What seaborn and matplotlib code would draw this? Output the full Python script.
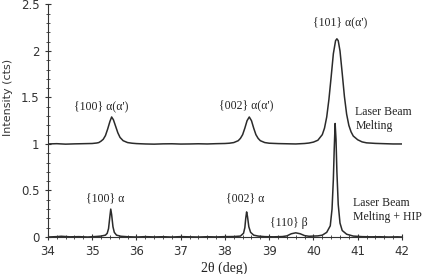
import numpy as np
import pandas as pd
import seaborn as sns
import matplotlib.pyplot as plt
from matplotlib.ticker import MultipleLocator

# ====
# data

lbm_x = [34.0, 34.2, 34.4, 34.6, 34.8, 35.0, 35.1, 35.15, 35.2, 35.25, 35.3, 35.35, 35.4, 35.44,
         35.48, 35.53, 35.58, 35.63, 35.7, 35.8, 35.9, 36.0, 36.2, 36.4, 36.6, 36.8, 37.0, 37.2,
         37.4, 37.6, 37.8, 38.0, 38.1, 38.2, 38.3, 38.35, 38.4, 38.45, 38.5, 38.55, 38.6, 38.65,
         38.7, 38.75, 38.8, 38.9, 39.0, 39.2, 39.4, 39.6, 39.8, 39.9, 40.0, 40.1, 40.2, 40.25,
         40.3, 40.35, 40.4, 40.45, 40.5, 40.53, 40.56, 40.6, 40.65, 40.7, 40.75, 40.8, 40.85,
         40.9, 41.0, 41.1, 41.2, 41.4, 41.6, 41.8, 42.0]
lbm_y = [1.000, 1.003, 0.998, 1.001, 1.003, 1.005, 1.010, 1.015, 1.030, 1.050, 1.090, 1.160, 1.240, 1.290,
         1.260, 1.190, 1.120, 1.070, 1.035, 1.015, 1.008, 1.004, 1.000, 0.998, 1.001, 1.002, 0.999, 1.000,
         1.002, 1.000, 1.003, 1.005, 1.008, 1.015, 1.035, 1.060, 1.100, 1.170, 1.250, 1.290, 1.250, 1.170,
         1.100, 1.060, 1.035, 1.015, 1.008, 1.004, 1.002, 1.000, 1.005, 1.010, 1.020, 1.040, 1.100, 1.170,
         1.290, 1.480, 1.720, 1.970, 2.110, 2.130, 2.110, 2.000, 1.760, 1.510, 1.320, 1.200, 1.130,
         1.085, 1.045, 1.022, 1.012, 1.006, 1.003, 1.000, 1.000]

hip_x = [34.0, 34.2, 34.3, 34.5, 34.7, 34.9, 35.1, 35.2, 35.3, 35.34, 35.37, 35.4, 35.42, 35.44,
         35.47, 35.5, 35.55, 35.65, 35.8, 36.0, 36.2, 36.4, 36.6, 36.8, 37.0, 37.2, 37.4, 37.6,
         37.8, 38.0, 38.2, 38.35, 38.42, 38.45, 38.47, 38.49, 38.51, 38.54, 38.58, 38.65, 38.75,
         38.9, 39.1, 39.3, 39.4, 39.5, 39.6, 39.7, 39.8, 39.9, 40.0, 40.1, 40.2, 40.3, 40.38,
         40.42, 40.45, 40.47, 40.49, 40.51, 40.53, 40.56, 40.6, 40.65, 40.75, 40.9, 41.1, 41.3,
         41.5, 41.7, 41.9, 42.0]
hip_y = [0.000, 0.004, 0.008, 0.002, 0.004, 0.000, 0.006, 0.010, 0.020, 0.040, 0.090, 0.220, 0.300, 0.240,
         0.110, 0.050, 0.020, 0.008, 0.003, 0.000, 0.004, 0.001, 0.003, 0.000, 0.004, 0.002, 0.000, 0.003,
         0.001, 0.004, 0.005, 0.010, 0.040, 0.100, 0.200, 0.270, 0.220, 0.110, 0.050, 0.020, 0.010,
         0.004, 0.002, 0.005, 0.012, 0.035, 0.045, 0.035, 0.015, 0.008, 0.010, 0.012, 0.020, 0.050, 0.120,
         0.300, 0.620, 0.950, 1.220, 1.050, 0.700, 0.350, 0.150, 0.070, 0.030, 0.010, 0.004, 0.002,
         0.003, 0.000, 0.002, 0.000]

lbm = pd.DataFrame({"two_theta": lbm_x, "intensity": lbm_y})
hip = pd.DataFrame({"two_theta": hip_x, "intensity": hip_y})

# ====
# plot

sns.set_style("ticks")
plt.rcParams["font.family"] = ["DejaVu Sans"]

fig, ax = plt.subplots(figsize=(4.24, 2.74), dpi=100)
fig.subplots_adjust(left=0.113, right=0.948, bottom=0.135, top=0.984)

line_kw = dict(color="#2b2b2b", linewidth=1.1, estimator=None, sort=False, ax=ax)
sns.lineplot(data=lbm, x="two_theta", y="intensity", **line_kw)
sns.lineplot(data=hip, x="two_theta", y="intensity", **line_kw)

ax.set_xlim(34, 42)
ax.set_ylim(0, 2.5)
ax.xaxis.set_major_locator(MultipleLocator(1))
ax.xaxis.set_minor_locator(MultipleLocator(0.2))
ax.yaxis.set_major_locator(MultipleLocator(0.5))
ax.yaxis.set_minor_locator(MultipleLocator(0.1))
ax.set_yticks([0, 0.5, 1, 1.5, 2, 2.5])
ax.set_yticklabels(["0", "0.5", "1", "1.5", "2", "2.5"])
ax.tick_params(which="major", direction="inout", length=5, width=0.8, labelsize=8.5, colors="#333333")
ax.tick_params(which="minor", direction="inout", length=3, width=0.6, colors="#333333")
sns.despine(ax=ax)
for s in ["left", "bottom"]:
    ax.spines[s].set_color("#333333")
    ax.spines[s].set_linewidth(0.8)

serif = "Liberation Serif"
ax.set_xlabel("2θ (deg)", family=serif, fontsize=10, color="#222222")
ax.set_ylabel("Intensity (cts)", fontsize=8, color="#333333")
# label positions in axes fraction
ax.xaxis.set_label_coords(0.497, -0.135, transform=ax.transAxes)
ax.yaxis.set_label_coords(-0.113, 0.6, transform=ax.transAxes)
ax.yaxis.label.set_va("center")
ax.xaxis.label.set_va("center")

ann = dict(family=serif, fontsize=8.5, color="#222222")
ax.text(40.6, 2.31, "{101} α(α')", ha="center", va="center", **ann)
ax.text(35.2, 1.40, "{100} α(α')", ha="center", va="center", **ann)
ax.text(38.47, 1.42, "{002} α(α')", ha="center", va="center", **ann)
ax.text(35.3, 0.42, "{100} α", ha="center", va="center", **ann)
ax.text(38.45, 0.42, "{002} α", ha="center", va="center", **ann)
ax.text(39.45, 0.15, "{110} β", ha="center", va="center", **ann)
ax.text(40.95, 1.27, "Laser Beam\nMelting", ha="left", va="center", linespacing=1.2, **ann)
ax.text(40.9, 0.29, "Laser Beam\nMelting + HIP", ha="left", va="center", linespacing=1.2,
        clip_on=False, **ann)

plt.savefig("out.png", dpi=100)
